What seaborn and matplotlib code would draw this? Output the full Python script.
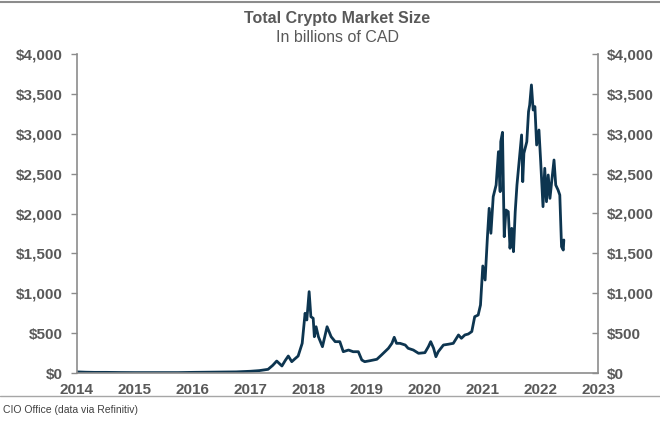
import matplotlib
matplotlib.use("Agg")
import matplotlib.pyplot as plt
from matplotlib.lines import Line2D
from matplotlib.ticker import FuncFormatter
import seaborn as sns
import pandas as pd

# Decimal-year dates and market size (billions of CAD)
years = [2014.00, 2014.15, 2014.30, 2014.50, 2014.75, 2015.00, 2015.25, 2015.50,
         2015.75, 2016.00, 2016.25, 2016.50, 2016.75, 2017.00, 2017.15, 2017.30,
         2017.38, 2017.45, 2017.54, 2017.60, 2017.65, 2017.71, 2017.76, 2017.82,
         2017.89, 2017.94, 2017.97, 2018.01, 2018.04, 2018.08, 2018.10, 2018.13,
         2018.17, 2018.24, 2018.32, 2018.39, 2018.46, 2018.54, 2018.60, 2018.69,
         2018.77, 2018.86, 2018.92, 2018.97, 2019.06, 2019.18, 2019.26, 2019.38,
         2019.44, 2019.48, 2019.52, 2019.58, 2019.67, 2019.72, 2019.81, 2019.90,
         2020.01, 2020.07, 2020.11, 2020.16, 2020.20, 2020.24, 2020.33, 2020.41,
         2020.50, 2020.59, 2020.64, 2020.70, 2020.76, 2020.82,
         2020.87, 2020.93, 2020.97, 2021.01, 2021.05, 2021.09, 2021.12, 2021.15,
         2021.19, 2021.24, 2021.28, 2021.31, 2021.32, 2021.35, 2021.38, 2021.41,
         2021.45, 2021.48, 2021.51, 2021.54, 2021.57, 2021.60, 2021.64, 2021.68,
         2021.70, 2021.72, 2021.77, 2021.80, 2021.82, 2021.85, 2021.88, 2021.91,
         2021.94, 2021.98, 2022.01, 2022.05, 2022.08, 2022.11, 2022.14, 2022.17,
         2022.20, 2022.24, 2022.27, 2022.31, 2022.34, 2022.37, 2022.40, 2022.41]
market_cap = [14, 10, 8, 8, 6, 5, 5, 5,
              5, 8, 10, 12, 14, 22, 30, 46,
              95, 150, 88, 160, 213, 142, 175, 213,
              372, 749, 665, 1020, 706, 686, 455, 580,
              455, 330, 580, 455, 393, 393, 267, 288,
              267, 267, 163, 142, 154, 172, 226, 310,
              372, 448, 372, 372, 351, 310, 288, 247,
              255, 330, 393, 310, 204, 267, 351, 360,
              372, 477, 435, 477, 489, 520,
              706, 727, 853, 1342, 1166, 1709, 2065, 1752,
              2211, 2357, 2775, 2274, 2900, 3018, 1709, 2044,
              2023, 1564, 1814, 1521, 2023, 2357, 2671, 2985,
              2399, 2755, 2900, 3277, 3361, 3612, 3298, 3340,
              2859, 3047, 2650, 2086, 2567, 2148, 2483, 2190,
              2399, 2671, 2357, 2295, 2232, 1584, 1542, 1668]

x_ticks = [2014, 2015, 2016, 2017, 2018, 2019, 2020, 2021, 2022, 2023]
y_ticks = [0, 500, 1000, 1500, 2000, 2500, 3000, 3500, 4000]

title = "Total Crypto Market Size"
subtitle = "In billions of CAD"
source = "CIO Office (data via Refinitiv)"

df = pd.DataFrame({"year": years, "cap": market_cap})

sns.set_theme(style="white")
plt.rcParams["font.family"] = ["Liberation Sans", "DejaVu Sans"]

GRAY = "#595959"
AXIS = "#8c8c8c"
LINE = "#0d3550"

fig = plt.figure(figsize=(6.6, 4.22), dpi=100)
ax = fig.add_axes([77 / 660, 1 - 373 / 422, (598 - 77) / 660, (373 - 54) / 422])

sns.lineplot(data=df, x="year", y="cap", ax=ax, color=LINE, linewidth=2.0)

ax.set_xlim(2014, 2023)
ax.set_ylim(0, 4000)
ax.set_xticks(x_ticks)
ax.set_xticklabels([str(t) for t in x_ticks])
ax.set_yticks(y_ticks)
fmt = FuncFormatter(lambda v, p: f"${v:,.0f}")
ax.yaxis.set_major_formatter(fmt)
ax.set_xlabel("")
ax.set_ylabel("")

for side in ["top", "right"]:
    ax.spines[side].set_visible(False)
for side in ["left", "bottom"]:
    ax.spines[side].set_color(AXIS)
    ax.spines[side].set_linewidth(1.2)

ax.tick_params(axis="both", which="major", length=4, width=1.0, color=AXIS,
               labelsize=11, labelcolor=GRAY, direction="out")
ax.tick_params(axis="y", pad=6)
ax.tick_params(axis="x", pad=3)
for lbl in ax.get_xticklabels() + ax.get_yticklabels():
    lbl.set_fontweight("bold")

ax2 = ax.twinx()
ax2.set_ylim(0, 4000)
ax2.set_yticks(y_ticks)
ax2.yaxis.set_major_formatter(fmt)
for side in ["top", "left", "bottom"]:
    ax2.spines[side].set_visible(False)
ax2.spines["right"].set_color(AXIS)
ax2.spines["right"].set_linewidth(1.2)
ax2.tick_params(axis="y", length=4, width=1.0, color=AXIS, direction="in",
                labelsize=11, labelcolor=GRAY, pad=6)
for lbl in ax2.get_yticklabels():
    lbl.set_fontweight("bold")

fig.text(337 / 660, 1 - 19 / 422, title, ha="center", va="center",
         fontsize=11.5, fontweight="bold", color=GRAY)
fig.text(337 / 660, 1 - 37 / 422, subtitle, ha="center", va="center",
         fontsize=11.5, color=GRAY)
fig.text(3 / 660, 1 - 410 / 422, source, ha="left", va="center",
         fontsize=7.5, color="#404040")

fig.add_artist(Line2D([0, 1], [1 - 1.5 / 422, 1 - 1.5 / 422], transform=fig.transFigure,
                      color=AXIS, linewidth=1.5))
fig.add_artist(Line2D([0, 1], [1 - 396 / 422, 1 - 396 / 422], transform=fig.transFigure,
                      color="#a6a6a6", linewidth=1.0))

fig.savefig("out.png", dpi=100)
